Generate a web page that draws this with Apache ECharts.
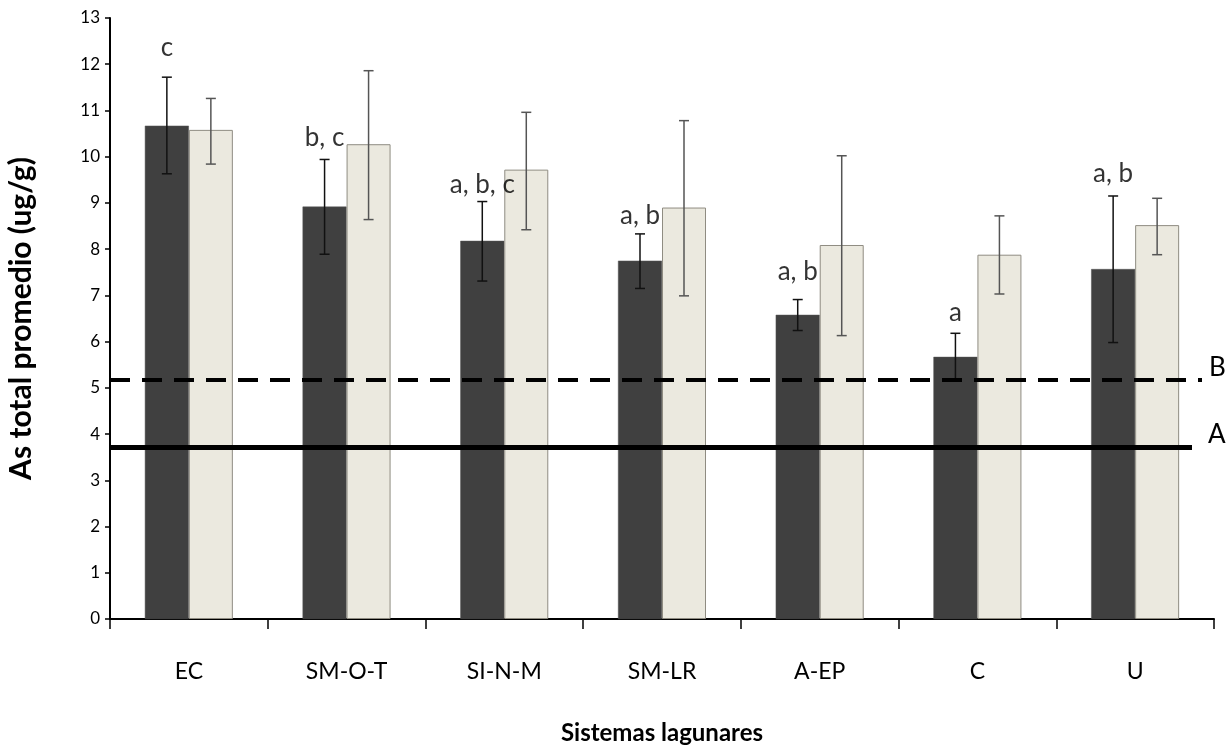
<!DOCTYPE html>
<html><head><meta charset="utf-8">
<script src="https://cdn.jsdelivr.net/npm/echarts@6/dist/echarts.min.js"></script>
<style>html,body{margin:0;padding:0;background:#fff}#c{width:1230px;height:749px}</style>
</head><body><div id="c"></div>
<script>
const categories = ['EC','SM-O-T','SI-N-M','SM-LR','A-EP','C','U'];
const darkValues = [10.67, 8.92, 8.18, 7.75, 6.58, 5.67, 7.57];
const darkErrLow = [9.63, 7.89, 7.31, 7.15, 6.24, 5.17, 5.98];
const darkErrHigh = [11.72, 9.94, 9.03, 8.33, 6.91, 6.18, 9.15];
const lightValues = [10.58, 10.27, 9.72, 8.90, 8.09, 7.88, 8.52];
const lightErrLow = [9.84, 8.64, 8.42, 6.99, 6.13, 7.03, 7.88];
const lightErrHigh = [11.26, 11.86, 10.96, 10.78, 10.02, 8.72, 9.10];
const letterLabels = ['c','b, c','a, b, c','a, b','a, b','a','a, b'];
const letterY = [12.36, 10.41, 9.39, 8.72, 7.51, 6.62, 9.63];
const refLineB = 5.17;
const refLineA = 3.72;
const yTicks = [0,1,2,3,4,5,6,7,8,9,10,11,12,13];

const FONT = 'Lato, "Open Sans", sans-serif';
const BAR_W = 44;

function errSeries(low, high, offset, color) {
  return {
    type: 'custom',
    z: 5,
    data: categories.map((c, i) => [i, low[i], high[i]]),
    renderItem: function (params, api) {
      const lo = api.coord([api.value(0), api.value(1)]);
      const hi = api.coord([api.value(0), api.value(2)]);
      const x = lo[0] + offset;
      const cap = 5;
      return {
        type: 'group',
        children: [
          {type: 'line', shape: {x1: x, y1: lo[1], x2: x, y2: hi[1]}, style: {stroke: color, lineWidth: 1.5}},
          {type: 'line', shape: {x1: x - cap, y1: lo[1], x2: x + cap, y2: lo[1]}, style: {stroke: color, lineWidth: 1.5}},
          {type: 'line', shape: {x1: x - cap, y1: hi[1], x2: x + cap, y2: hi[1]}, style: {stroke: color, lineWidth: 1.5}}
        ]
      };
    }
  };
}

const chart = echarts.init(document.getElementById('c'));
chart.setOption({
  animation: false,
  backgroundColor: '#fff',
  grid: {left: 110, right: 16, top: 18, bottom: 130, containLabel: false, outerBoundsMode: 'none'},
  xAxis: {
    type: 'category',
    data: categories,
    boundaryGap: true,
    name: 'Sistemas lagunares',
    nameLocation: 'middle',
    nameGap: 102,
    nameTextStyle: {fontFamily: FONT, fontSize: 24, fontWeight: 'bold', color: '#000'},
    axisLine: {lineStyle: {color: '#000', width: 2}},
    axisTick: {show: true, length: 10, lineStyle: {color: '#000', width: 1.5}},
    axisLabel: {fontFamily: FONT, fontSize: 23, color: '#000', margin: 41}
  },
  yAxis: {
    type: 'value',
    min: 0, max: 13, interval: 1,
    name: 'As total promedio (ug/g)',
    nameLocation: 'middle',
    nameGap: 74,
    nameTextStyle: {fontFamily: FONT, fontSize: 30, fontWeight: 'bold', color: '#000'},
    axisLine: {show: true, lineStyle: {color: '#000', width: 2}},
    axisTick: {show: true, length: 5, lineStyle: {color: '#000', width: 1.5}},
    axisLabel: {fontFamily: FONT, fontSize: 17, color: '#000', margin: 10,
      formatter: v => yTicks.includes(v) ? String(v) : ''},
    splitLine: {show: false}
  },
  series: [
    {
      type: 'bar', name: 'dark',
      data: darkValues,
      barWidth: BAR_W, barGap: '0%',
      itemStyle: {color: '#404040', borderColor: '#555', borderWidth: 0.5},
      markLine: {
        silent: true, symbol: 'none', z: 10,
        data: [
          [{yAxis: refLineB, x: 110, lineStyle: {type: [20, 12], width: 4, color: '#000'},
            label: {show: true, position: 'end', formatter: 'B', fontFamily: FONT, fontSize: 26, color: '#000', offset: [2, -12]}},
           {yAxis: refLineB, x: 1202}],
          [{yAxis: refLineA, x: 110, lineStyle: {type: 'solid', width: 5, color: '#000'},
            label: {show: true, position: 'end', formatter: 'A', fontFamily: FONT, fontSize: 26, color: '#000', offset: [11, -12]}},
           {yAxis: refLineA, x: 1192}]
        ]
      }
    },
    {
      type: 'bar', name: 'light',
      data: lightValues,
      barWidth: BAR_W, barGap: '0%',
      itemStyle: {color: '#ebe9df', borderColor: '#8f8c82', borderWidth: 1}
    },
    errSeries(darkErrLow, darkErrHigh, -BAR_W / 2, '#111'),
    errSeries(lightErrLow, lightErrHigh, BAR_W / 2, '#555'),
    {
      type: 'scatter',
      symbolSize: 0,
      z: 6,
      data: categories.map((c, i) => [i, letterY[i]]),
      label: {
        show: true, position: 'inside', offset: [-BAR_W / 2, 0],
        fontFamily: FONT, fontSize: 26, color: '#000',
        formatter: p => letterLabels[p.dataIndex]
      }
    }
  ]
});
</script></body></html>
